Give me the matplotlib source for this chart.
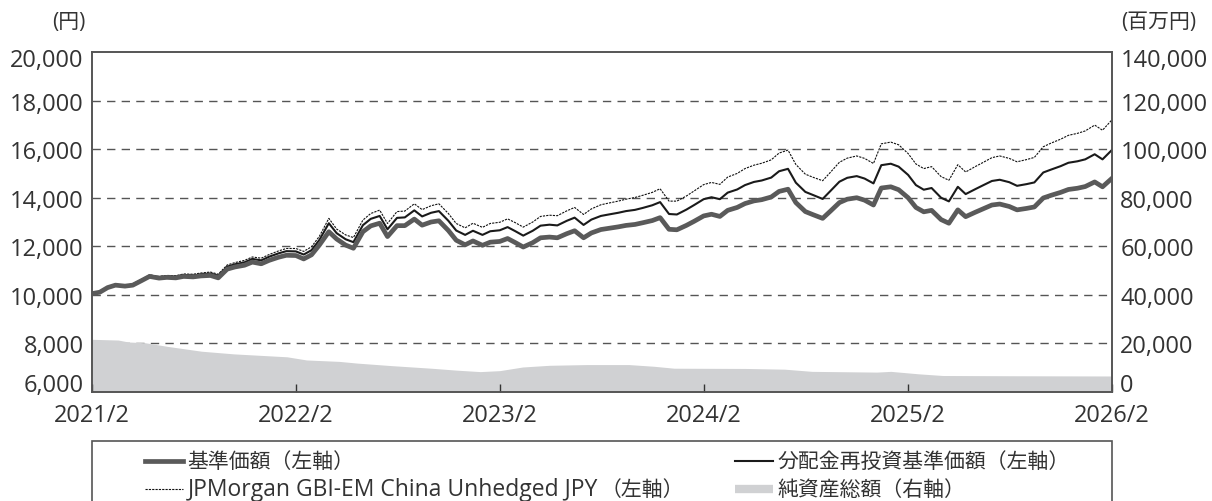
import matplotlib
matplotlib.use("Agg")
import matplotlib.pyplot as plt
import matplotlib.patches as mpatches
from matplotlib.lines import Line2D
from matplotlib.transforms import ScaledTranslation
import pandas as pd

plt.rcParams['font.family'] = ['Open Sans', 'Noto Sans CJK JP', 'DejaVu Sans']

# half-monthly observation dates (1st / 15th), 2021/2 - 2026/2
dates = pd.date_range("2021-02-01", "2026-02-01", freq="SMS")

# 基準価額 (円)
base = [10050, 10110, 10300, 10400, 10360, 10400, 10590, 10760, 10690, 10720,
        10700, 10760, 10740, 10780, 10800, 10700, 11060, 11150, 11220, 11350,
        11280, 11420, 11550, 11630, 11620, 11480, 11650, 12050, 12600, 12300,
        12050, 11920, 12600, 12840, 12950, 12400, 12850, 12850, 13120, 12870,
        13000, 13050, 12650, 12250, 12060, 12220, 12040, 12170, 12200, 12320,
        12150, 11970, 12150, 12350, 12380, 12350, 12520, 12640, 12350, 12550,
        12690, 12740, 12800, 12860, 12900, 12970, 13060, 13180, 12700, 12680,
        12860, 13030, 13250, 13320, 13230, 13480, 13600, 13760, 13870, 13920,
        14030, 14260, 14350, 13800, 13430, 13300, 13150, 13450, 13800, 13940,
        14000, 13900, 13700, 14400, 14450, 14330, 14000, 13600, 13420, 13480,
        13100, 12950, 13500, 13220, 13400, 13540, 13700, 13740, 13640, 13500,
        13560, 13620, 13990, 14100, 14220, 14340, 14390, 14460, 14650, 14450,
        14800]

# 分配金再投資基準価額 (円)
reinvest = [10050, 10120, 10310, 10420, 10380, 10430, 10620, 10800, 10730, 10770,
            10750, 10820, 10800, 10850, 10880, 10790, 11160, 11260, 11340, 11480,
            11420, 11570, 11710, 11800, 11790, 11660, 11840, 12260, 12950, 12540,
            12290, 12170, 12870, 13130, 13250, 12700, 13170, 13190, 13480, 13230,
            13380, 13450, 13050, 12650, 12470, 12640, 12470, 12620, 12660, 12790,
            12620, 12440, 12640, 12850, 12890, 12860, 13050, 13180, 12880, 13100,
            13250, 13310, 13380, 13450, 13500, 13580, 13690, 13820, 13330, 13310,
            13510, 13700, 13940, 14020, 13940, 14210, 14340, 14520, 14650, 14710,
            14830, 15090, 15190, 14620, 14240, 14110, 13950, 14280, 14660, 14820,
            14890, 14790, 14590, 15340, 15400, 15280, 14940, 14520, 14330, 14400,
            14000, 13850, 14450, 14150, 14350, 14510, 14690, 14740, 14640, 14490,
            14560, 14630, 15040, 15160, 15300, 15440, 15500, 15580, 15790, 15580,
            15970]

# JPMorgan GBI-EM China Unhedged JPY (円換算)
bench = [10050, 10120, 10320, 10430, 10390, 10440, 10640, 10820, 10760, 10800,
         10790, 10860, 10850, 10900, 10940, 10850, 11230, 11330, 11420, 11560,
         11510, 11660, 11810, 11910, 11910, 11790, 11980, 12410, 13150, 12710,
         12470, 12360, 13080, 13350, 13490, 12940, 13430, 13450, 13750, 13510,
         13670, 13750, 13350, 12940, 12760, 12950, 12780, 12940, 12990, 13130,
         12970, 12790, 13000, 13230, 13280, 13260, 13460, 13600, 13310, 13540,
         13710, 13780, 13860, 13940, 14010, 14100, 14220, 14370, 13860, 13860,
         14070, 14280, 14540, 14630, 14550, 14850, 15000, 15200, 15340, 15420,
         15560, 15840, 15960, 15370, 14970, 14840, 14700, 15050, 15460, 15630,
         15720, 15620, 15410, 16220, 16290, 16180, 15820, 15390, 15200, 15280,
         14870, 14720, 15360, 15060, 15280, 15450, 15650, 15720, 15620, 15480,
         15570, 15660, 16100, 16250, 16410, 16570, 16650, 16750, 16990, 16780,
         17210]

# 純資産総額 (百万円)
nav_dates = pd.to_datetime([
    "2021-02-01", "2021-03-20", "2021-04-07", "2021-05-07", "2021-06-16",
    "2021-08-16", "2021-10-13", "2022-01-16", "2022-02-20", "2022-04-20",
    "2022-05-22", "2022-07-20", "2022-10-01", "2022-11-16", "2022-12-28",
    "2023-02-01", "2023-03-14", "2023-05-01", "2023-07-07", "2023-09-20",
    "2023-11-04", "2023-12-10", "2024-04-16", "2024-06-25", "2024-08-13",
    "2024-12-07", "2025-01-01", "2025-02-19", "2025-04-04", "2025-08-01",
    "2026-02-01"])
nav = [21700, 21400, 20600, 20300, 18800, 16800, 15700, 14500, 13200, 12600,
       11900, 10900, 9800, 9000, 8400, 8800, 10300, 11000, 11300, 11300,
       10600, 9800, 9700, 9400, 8500, 8200, 8500, 7500, 6800, 6700,
       6600]

left_ticks = [6000, 8000, 10000, 12000, 14000, 16000, 18000, 20000]
right_ticks = [0, 20000, 40000, 60000, 80000, 100000, 120000, 140000]
x_ticks = pd.to_datetime(["2021-02-01", "2022-02-01", "2023-02-01",
                          "2024-02-01", "2025-02-01", "2026-02-01"])
x_labels = ["2021/2", "2022/2", "2023/2", "2024/2", "2025/2", "2026/2"]

txt = '#333333'
spine_c = '#555555'
fig = plt.figure(figsize=(12.12, 5.02), dpi=100)
ax = fig.add_axes([0.0759, 0.2171, 0.8416, 0.6773])
ax2 = ax.twinx()
ax.set_zorder(2)
ax2.set_zorder(1)
ax.patch.set_visible(False)

# right axis: grid + net assets area (behind the price lines)
for v in right_ticks[1:-1]:
    ax2.axhline(v, color='#555555', lw=1.0, dashes=(6, 4.5), zorder=1)
ax2.fill_between(nav_dates, nav, 0, color='#d0d1d3', lw=0, zorder=2)
ax2.set_ylim(0, 140000)
ax2.set_yticks(right_ticks)
ax2.set_yticklabels([f"{v:,}" for v in right_ticks])

# left axis: prices
ax.plot(dates, bench, color='#111111', lw=0.8, dashes=(2, 1))
ax.plot(dates, reinvest, color='#1a1a1a', lw=1.5)
ax.plot(dates, base, color='#5a5a5a', lw=3.4)
ax.set_ylim(6000, 20000)
ax.set_yticks(left_ticks)
ax.set_yticklabels([f"{v:,}" for v in left_ticks])
ax.set_xlim(x_ticks[0], x_ticks[-1])
ax.set_xticks(x_ticks)
ax.set_xticklabels(x_labels)

for a in (ax, ax2):
    for s in a.spines.values():
        s.set_color(spine_c)
        s.set_linewidth(1.2)
    a.tick_params(axis='y', length=0, labelsize=17, labelcolor=txt, pad=6)
    # nudge the end labels inward, as in the original
    labels = a.get_yticklabels()
    labels[0].set_transform(labels[0].get_transform() +
                            ScaledTranslation(0, 0.10, fig.dpi_scale_trans))
    labels[-1].set_transform(labels[-1].get_transform() +
                             ScaledTranslation(0, -0.05, fig.dpi_scale_trans))
ax.tick_params(axis='x', direction='in', length=6, width=1, color='#333333',
               labelsize=17, labelcolor=txt, pad=8)

fig.text(0.057, 0.955, "(円)", fontsize=15, color=txt, ha='center', va='center')
fig.text(0.956, 0.955, "(百万円)", fontsize=15, color=txt, ha='center', va='center')

# legend box (runs off the bottom edge like the original)
fig.add_artist(mpatches.Rectangle((0.0759, -0.1), 0.8416, 0.2195,
                                  transform=fig.transFigure, fill=False,
                                  ec=spine_c, lw=1.2))
y1, y2 = 0.0797, 0.0239
entries = [
    (0.1196, y1, dict(color='#5a5a5a', lw=3.4), "基準価額（左軸）"),
    (0.6064, y1, dict(color='#1a1a1a', lw=1.5), "分配金再投資基準価額（左軸）"),
    (0.1196, y2, dict(color='#111111', lw=0.8, dashes=(2, 1)), None),
    (0.6064, y2, dict(color='#d0d1d3', lw=6, solid_capstyle='butt'), "純資産総額（右軸）"),
]
for x0, yy, style, label in entries:
    fig.add_artist(Line2D([x0, x0 + 0.031], [yy, yy], transform=fig.transFigure, **style))
    if label:
        fig.text(x0 + 0.035, yy, label, fontsize=15, color=txt, ha='left', va='center')

# benchmark label: latin part set a little larger, as in the original
t_bench = fig.text(0.1196 + 0.035, y2, "JPMorgan GBI-EM China Unhedged JPY",
                   fontsize=16.5, color=txt, ha='left', va='center')
fig.canvas.draw()
bb = t_bench.get_window_extent().transformed(fig.transFigure.inverted())
fig.text(bb.x1 + 0.002, y2, "（左軸）", fontsize=15, color=txt, ha='left', va='center')

fig.savefig("out.png", dpi=100)
